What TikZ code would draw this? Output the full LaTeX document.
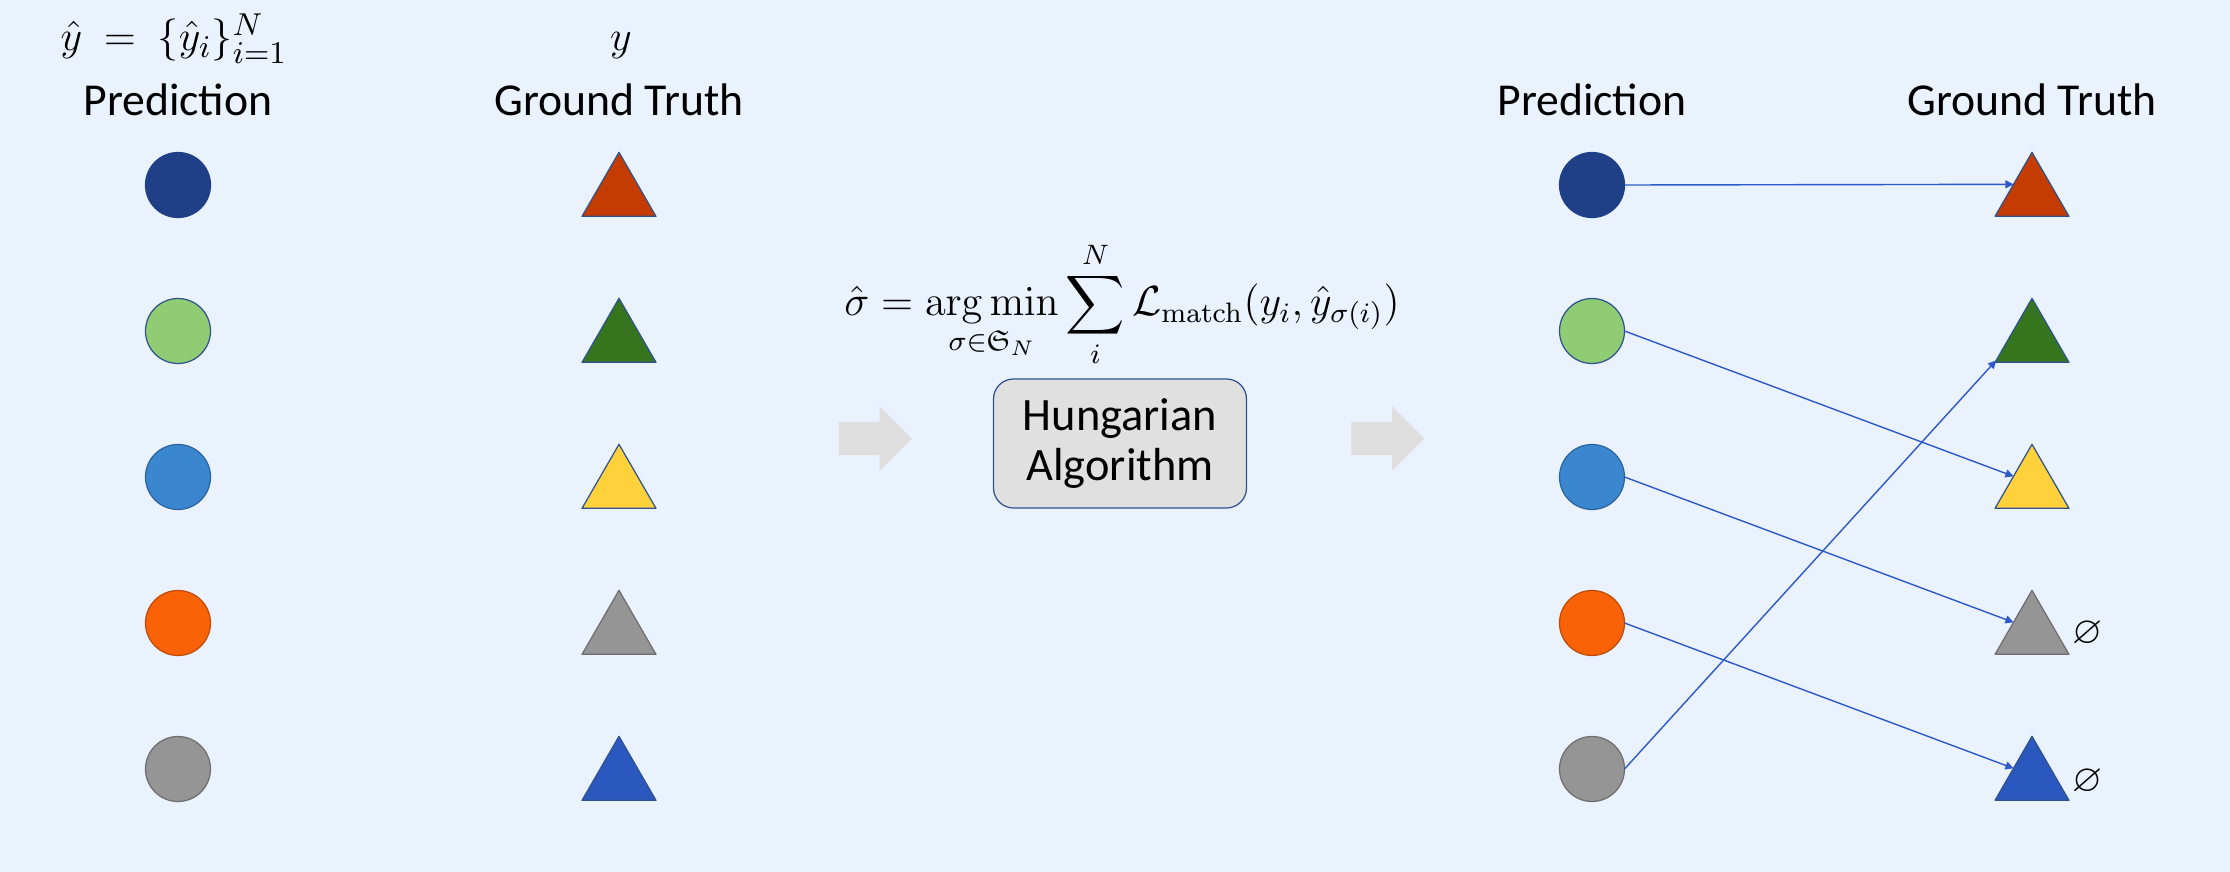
\documentclass[tikz,border=0pt]{standalone}
\usepackage{amsmath,amssymb}
\usepackage[no-math]{fontspec}
\setmainfont{Carlito}
\usetikzlibrary{shapes.geometric,shapes.arrows,arrows.meta,calc}
\definecolor{bgblue}{RGB}{234,242,254}
\definecolor{bord}{RGB}{47,82,143}
\definecolor{cA}{RGB}{31,64,135}
\definecolor{cB}{RGB}{143,204,116}
\definecolor{cC}{RGB}{58,135,208}
\definecolor{cD}{RGB}{250,98,8}
\definecolor{cE}{RGB}{149,149,149}
\definecolor{dC}{RGB}{45,100,160}
\definecolor{dD}{RGB}{190,75,10}
\definecolor{dE}{RGB}{110,110,110}
\definecolor{tA}{RGB}{197,60,0}
\definecolor{tB}{RGB}{54,117,30}
\definecolor{tC}{RGB}{255,210,60}
\definecolor{tE}{RGB}{42,88,190}
\definecolor{boxgray}{RGB}{224,224,224}
\definecolor{arrgray}{RGB}{222,222,222}
\definecolor{linkblue}{RGB}{45,90,200}
\begin{document}
\begin{tikzpicture}[line join=round,
  txt/.style={font=\fontsize{13}{14.2}\selectfont},
  mth/.style={font=\fontsize{12.6}{14}\selectfont},
  dot/.style={circle,minimum size=0.65cm,inner sep=0,outer sep=0,line width=0.35pt},
  tri/.style={regular polygon,regular polygon sides=3,minimum size=0.854cm,inner sep=0,outer sep=0,line width=0.35pt},
  hbox/.style={draw=bord,fill=boxgray,rounded corners=0.2cm,minimum width=2.53cm,minimum height=1.29cm,align=center,line width=0.35pt,font=\fontsize{13.2}{14.2}\selectfont},
  garrow/.style={single arrow,fill=arrgray,minimum width=0.63cm,minimum height=0.73cm,inner sep=0.16cm,single arrow head extend=0.155cm},
  link/.style={draw=linkblue,line width=0.4pt,-{Triangle[length=2.3pt,width=2.3pt]}}]
\fill[bgblue] (0,0) rectangle (22.3,-8.72);
\useasboundingbox (0,0) rectangle (22.3,-8.72);
% headings
\node[mth,anchor=base] (yhat) at (1.74,-0.51) {$\hat{y}\ =\ \{\hat{y}_i\}_{i=1}^{N}$};
\node[mth,anchor=base] (ygt) at (6.21,-0.51) {$y$};
\foreach \x/\t/\n in {1.78/Prediction/hl1,6.19/Ground Truth/hl2,15.92/Prediction/hr1,20.32/Ground Truth/hr2}
  \node[txt,anchor=base] (\n) at (\x,-1.16) {\t};
% predictions and ground truth
\foreach \i/\pf/\pd/\tf/\td in {1/cA/cA/tA/bord,2/cB/bord/tB/bord,3/cC/dC/tC/bord,4/cD/dD/cE/dE,5/cE/dE/tE/bord}{
  \node[dot,fill=\pf,draw=\pd] (pl\i) at (1.78,{-1.85-1.46*(\i-1)}) {};
  \node[tri,fill=\tf,draw=\td] (gl\i) at (6.19,{-1.95-1.46*(\i-1)}) {};
  \node[dot,fill=\pf,draw=\pd] (pr\i) at (15.92,{-1.85-1.46*(\i-1)}) {};
  \node[tri,fill=\tf,draw=\td] (gr\i) at (20.32,{-1.95-1.46*(\i-1)}) {};
}
\node[font=\fontsize{11}{13}\selectfont] (e4) at (20.88,-6.34) {$\varnothing$};
\node[font=\fontsize{11}{13}\selectfont] (e5) at (20.88,-7.82) {$\varnothing$};
% matching
\node[mth,font=\fontsize{11.7}{14}\selectfont,anchor=base] (eq) at (11.22,-3.16) {$\displaystyle\hat{\sigma}=\operatorname*{arg\,min}_{\sigma\in\mathfrak{S}_N}\sum_{i}^{N}\mathcal{L}_{\mathrm{match}}(y_i,\hat{y}_{\sigma(i)})$};
\node[hbox] (hung) at (11.20,-4.435) {Hungarian\\Algorithm};
\node[garrow] (a1) at (8.67,-4.385) {};
\node[garrow] (a2) at (13.795,-4.385) {};
\draw[link] (pr1.east) -- ($(gr1.corner 1)!0.5!(gr1.corner 2)$);
\draw[link] (pr2.east) -- ($(gr3.corner 1)!0.5!(gr3.corner 2)$);
\draw[link] (pr3.east) -- ($(gr4.corner 1)!0.5!(gr4.corner 2)$);
\draw[link] (pr4.east) -- ($(gr5.corner 1)!0.5!(gr5.corner 2)$);
\draw[link] (pr5.east) -- ($(gr2.corner 1)!0.97!(gr2.corner 2)$);
\end{tikzpicture}
\end{document}
